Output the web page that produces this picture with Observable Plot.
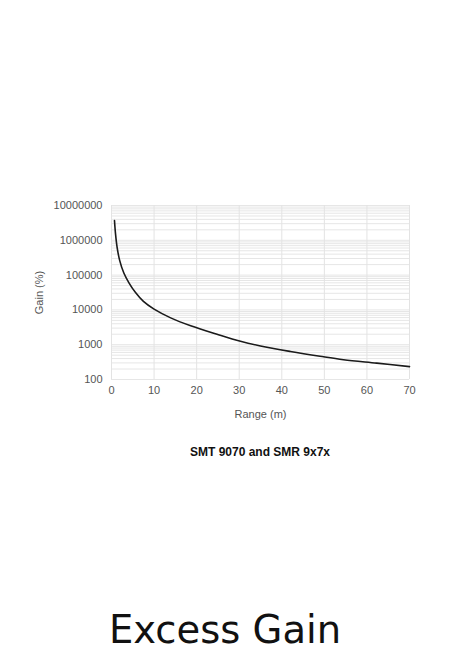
<!DOCTYPE html>
<html>
<head>
<meta charset="utf-8">
<script src="https://cdn.jsdelivr.net/npm/d3@7"></script>
<script src="https://cdn.jsdelivr.net/npm/@observablehq/plot@0.6"></script>
<style>
  html, body { margin: 0; padding: 0; background: #fff; }
  #wrap { position: relative; width: 450px; height: 658px; overflow: hidden; }
  #chart { position: absolute; left: 0; top: 0; }
  #caption { position: absolute; left: 140px; width: 240px; top: 445px; text-align: center;
    font: bold 12px "Liberation Sans", Arial, sans-serif; color: #111; }
  #title { position: absolute; left: 0; width: 450px; top: 607px; text-align: center;
    font: 38.5px "DejaVu Sans", sans-serif; color: #111; }
</style>
</head>
<body>
<div id="wrap">
  <div id="chart"></div>
  <div id="caption">SMT 9070 and SMR 9x7x</div>
  <div id="title">Excess Gain</div>
</div>
<script>
// Data
const rangeM = [0.7, 0.94, 1.3, 1.9, 2.9, 4.1, 5.6, 7.5, 10, 13.9, 18.6, 24.8, 30.3, 35, 42, 49, 54.5, 62.3, 70];
const gainPct = [3700000, 1550000, 650000, 270000, 115000, 60000, 32000, 17500, 10500, 5900, 3500, 2000, 1260, 920, 640, 465, 370, 295, 235];
const xTicks = [0, 10, 20, 30, 40, 50, 60, 70];
const yTicks = [100, 1000, 10000, 100000, 1000000, 10000000];

const data = rangeM.map((r, i) => ({range: r, gain: gainPct[i]}));
const yMinor = d3.scaleLog().domain([100, 10000000]).ticks();

const plot = Plot.plot({
  width: 450,
  height: 430,
  marginTop: 205,
  marginBottom: 51,
  marginLeft: 111,
  marginRight: 41,
  style: {fontFamily: "'Liberation Sans', Arial, sans-serif", fontSize: "11px", color: "#555", background: "#fff"},
  x: {domain: [0, 70]},
  y: {type: "log", domain: [100, 10000000]},
  marks: [
    Plot.ruleY(yMinor, {stroke: "#e6e6e6", strokeWidth: 1, strokeOpacity: 1}),
    Plot.ruleX(xTicks, {stroke: "#e3e3e3", strokeWidth: 1, strokeOpacity: 1}),
    Plot.axisX({ticks: xTicks, tickSize: 0, tickPadding: 7, tickFormat: d => String(d),
      label: "Range (m)", labelAnchor: "center", labelArrow: false, labelOffset: 38}),
    Plot.axisY({ticks: yTicks, tickSize: 0, tickPadding: 9, tickFormat: d => String(d),
      label: "Gain (%)", labelAnchor: "center", labelArrow: false, labelOffset: 76}),
    Plot.line(data, {x: "range", y: "gain", curve: "catmull-rom", stroke: "#1a1a1a", strokeWidth: 1.6})
  ]
});
document.getElementById("chart").appendChild(plot);
</script>
</body>
</html>
